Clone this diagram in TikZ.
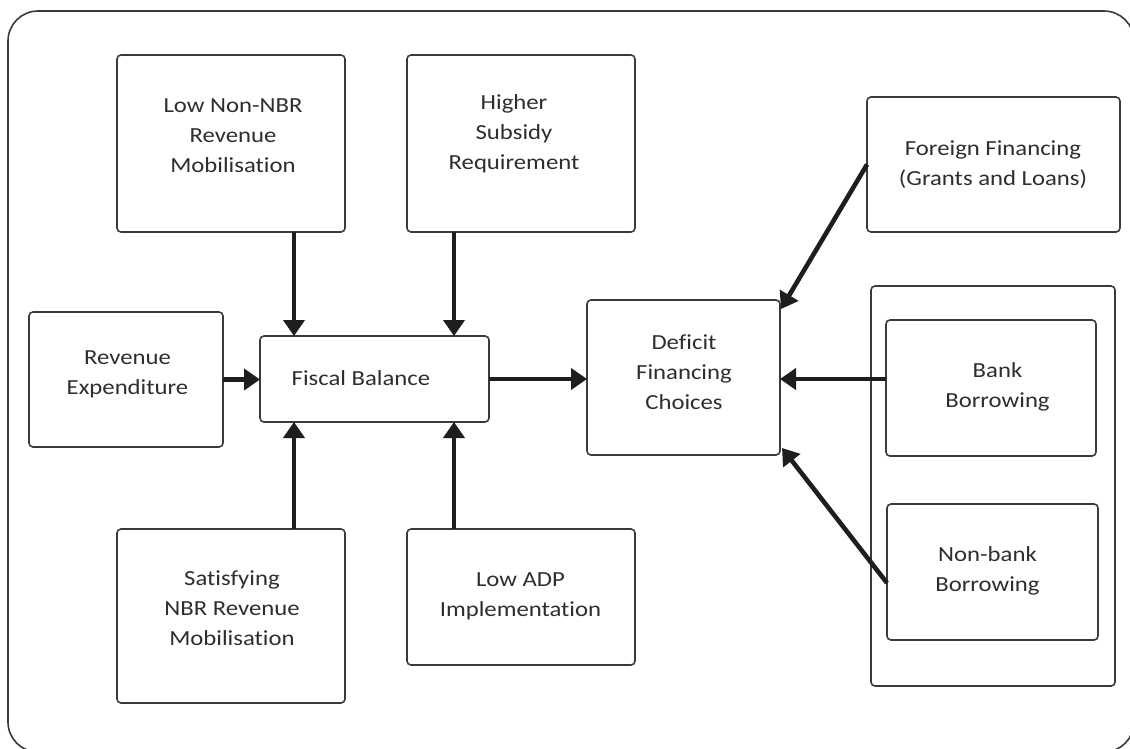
\documentclass[tikz,border=0pt]{standalone}
\usepackage{fontspec}
\setmainfont{Carlito}[FakeStretch=1.15,Ligatures=NoCommon]
\usetikzlibrary{arrows.meta,calc}
\definecolor{boxline}{HTML}{3A3A3A}
\definecolor{txtcol}{HTML}{2E2E2E}
\definecolor{arrcol}{HTML}{1E1E1E}
\begin{document}
\begin{tikzpicture}[x=1pt,y=-1pt,
  box/.style={draw=boxline,line width=1.6pt,rounded corners=4pt,inner sep=0pt,outer sep=0pt,fill=none},
  txt/.style={text=txtcol,align=center,inner sep=0pt,font=\fontsize{21.5}{30}\selectfont},
  arr/.style={draw=arrcol,line width=4.6pt,-{Triangle[length=16pt,width=21pt]}}]
\useasboundingbox (0,0) rectangle (1130,748);
\fill[white] (0,0) rectangle (1130,748);
% outer frame
\draw[boxline,line width=1.6pt,rounded corners=30pt] (8,11) rectangle (1134,752);
% boxes
\node[box,minimum width=228pt,minimum height=177pt] (lownon) at (231,143.5) {};
\node[box,minimum width=228pt,minimum height=177pt] (higher) at (521,143.5) {};
\node[box,minimum width=253pt,minimum height=135pt] (foreign) at (993.5,164.5) {};
\node[box,minimum width=194pt,minimum height=135pt] (revexp) at (126,379.5) {};
\node[box,minimum width=229pt,minimum height=86pt] (fiscal) at (374.5,379) {};
\node[box,minimum width=193pt,minimum height=155pt] (deficit) at (683.5,377.5) {};
\node[box,minimum width=244pt,minimum height=400pt] (container) at (993,486) {};
\node[box,minimum width=210pt,minimum height=136pt] (bank) at (991,388) {};
\node[box,minimum width=211pt,minimum height=136pt] (nonbank) at (992.5,572) {};
\node[box,minimum width=228pt,minimum height=174pt] (satisfy) at (231,616) {};
\node[box,minimum width=228pt,minimum height=136pt] (lowadp) at (521,597) {};
% texts
\node[txt] (tlownon) at (233,136) {Low Non-NBR\\Revenue\\Mobilisation};
\node[txt] (thigher) at (514,134) {Higher\\Subsidy\\Requirement};
\node[txt] (tforeign) at (993,165) {Foreign Financing\\(Grants and Loans)};
\node[txt] (trevexp) at (127.5,374) {Revenue\\Expenditure};
\node[txt] (tfiscal) at (361,378) {Fiscal Balance};
\node[txt] (tdeficit) at (684,372) {Deficit\\Financing\\Choices};
\node[txt] (tbank) at (997.5,387) {Bank\\Borrowing};
\node[txt] (tnonbank) at (987.5,571) {Non-bank\\Borrowing};
\node[txt] (tsatisfy) at (232,608) {Satisfying\\NBR Revenue\\Mobilisation};
\node[txt] (tlowadp) at (520.5,596) {Low ADP\\Implementation};
% column coordinates
\coordinate (colA) at (294,0);
\coordinate (colB) at (454,0);
% arrows
\draw[arr] (colA |- lownon.south) -- (colA |- fiscal.north);
\draw[arr] (colB |- higher.south) -- (colB |- fiscal.north);
\draw[arr] (colA |- satisfy.north) -- (colA |- fiscal.south);
\draw[arr] (colB |- lowadp.north) -- (colB |- fiscal.south);
\draw[arr] (revexp.east) -- (revexp.east -| fiscal.west);
\draw[arr] (fiscal.east) -- (fiscal.east -| deficit.west);
\draw[arr] (foreign.west) -- ($(deficit.north east)+(1,9)$);
\draw[arr] (fiscal.east -| bank.west) -- (fiscal.east -| deficit.east);
\draw[arr] ($(nonbank.west)+(0,11)$) -- ($(deficit.south east)+(2,-7)$);
\end{tikzpicture}
\end{document}
